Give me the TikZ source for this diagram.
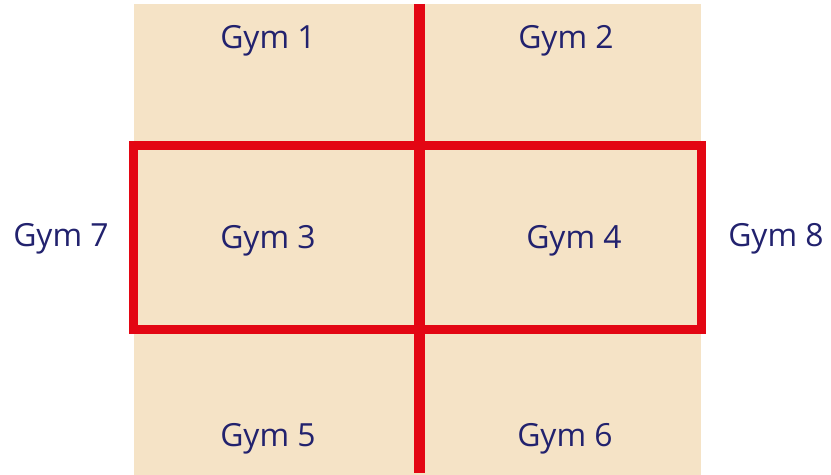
\documentclass[tikz,border=0pt]{standalone}
\usepackage{fontspec}
\setmainfont{Open Sans}
\definecolor{gymbeige}{HTML}{F5E3C6}
\definecolor{gymred}{HTML}{E30613}
\definecolor{gymblue}{HTML}{22226E}
\begin{document}
\begin{tikzpicture}[x=1bp,y=-1bp,
    label/.style={text=gymblue,font=\fontsize{32}{38}\selectfont,inner sep=0pt}]

\useasboundingbox (0,0) rectangle (831,475);

\fill[gymbeige] (134,4) rectangle (701,475);

\draw[gymred,line width=9bp] (133,146) rectangle (701,330);
\draw[gymred,line width=11bp] (419,4)--(419,473);

\node[label] (g1) at (268,41) {Gym 1};
\node[label] (g2) at (566,41) {Gym 2};
\node[label] (g3) at (268,241) {Gym 3};
\node[label] (g4) at (574,241) {Gym 4};
\node[label] (g5) at (268,439) {Gym 5};
\node[label] (g6) at (565,439) {Gym 6};
\node[label] (g7) at (61,239) {Gym 7};
\node[label] (g8) at (776,239) {Gym 8};

\end{tikzpicture}
\end{document}
